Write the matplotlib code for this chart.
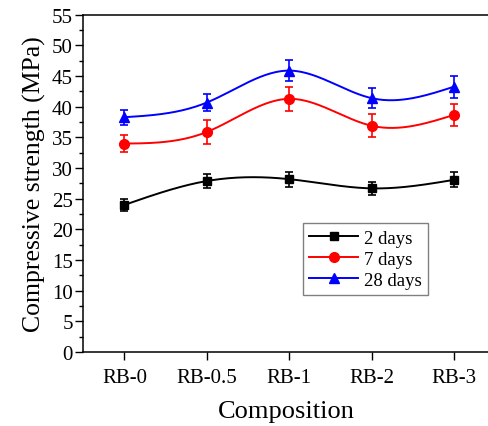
import numpy as np
import matplotlib
matplotlib.use("Agg")
import matplotlib.pyplot as plt
from matplotlib.ticker import MultipleLocator

plt.rcParams["font.family"] = ["Liberation Serif", "DejaVu Serif"]

compositions = ["RB-0", "RB-0.5", "RB-1", "RB-2", "RB-3"]

days2 = [24.0, 27.9, 28.2, 26.7, 28.1]
days2_err = [1.0, 1.2, 1.25, 1.0, 1.25]
days7 = [34.0, 35.9, 41.3, 36.9, 38.7]
days7_err = [1.4, 2.0, 2.0, 1.9, 1.75]
days28 = [38.3, 40.7, 45.9, 41.4, 43.3]
days28_err = [1.2, 1.35, 1.75, 1.6, 1.8]


def natural_spline(x, y, num=200):
    # natural cubic spline through the points, for a smooth connecting line
    x = np.asarray(x, float)
    y = np.asarray(y, float)
    n = len(x)
    h = np.diff(x)
    A = np.zeros((n, n))
    b = np.zeros(n)
    A[0, 0] = A[-1, -1] = 1
    for i in range(1, n - 1):
        A[i, i - 1] = h[i - 1]
        A[i, i] = 2 * (h[i - 1] + h[i])
        A[i, i + 1] = h[i]
        b[i] = 3 * ((y[i + 1] - y[i]) / h[i] - (y[i] - y[i - 1]) / h[i - 1])
    c = np.linalg.solve(A, b)
    xs = np.linspace(x[0], x[-1], num)
    idx = np.clip(np.searchsorted(x, xs) - 1, 0, n - 2)
    dx = xs - x[idx]
    bb = (y[idx + 1] - y[idx]) / h[idx] - h[idx] * (2 * c[idx] + c[idx + 1]) / 3
    dd = (c[idx + 1] - c[idx]) / (3 * h[idx])
    ys = y[idx] + bb * dx + c[idx] * dx ** 2 + dd * dx ** 3
    return xs, ys


fig = plt.figure(figsize=(4.89, 4.27), dpi=100)
ax = fig.add_axes([0.170, 0.173, 0.830, 0.790])

x = np.arange(len(compositions))
series = [
    (days2, days2_err, "black", "s", 6, "2 days"),
    (days7, days7_err, "red", "o", 7, "7 days"),
    (days28, days28_err, "blue", "^", 7.5, "28 days"),
]
for vals, errs, color, marker, ms, label in series:
    xs, ys = natural_spline(x, vals)
    ax.plot(xs, ys, color=color, lw=1.4)
    ax.errorbar(x, vals, yerr=errs, fmt="none", ecolor=color, elinewidth=1.2,
                capsize=3, capthick=1.2)
    ax.plot(x, vals, linestyle="none", marker=marker, color=color, ms=ms)
    ax.plot([], [], color=color, marker=marker, ms=ms, lw=1.4, label=label)

ax.set_xlim(-0.5, 4.42)
ax.set_ylim(0, 55)
ax.set_xticks(x)
ax.set_xticklabels(compositions)
ax.yaxis.set_major_locator(MultipleLocator(5))
ax.yaxis.set_minor_locator(MultipleLocator(2.5))
ax.tick_params(axis="both", which="major", direction="out", length=5.5, width=1,
               labelsize=15)
ax.tick_params(axis="y", which="minor", direction="out", length=3, width=1)
ax.tick_params(axis="x", pad=6)
ax.tick_params(axis="y", pad=2)
ax.spines["right"].set_visible(False)
for s in ["left", "bottom", "top"]:
    ax.spines[s].set_linewidth(1.1)

ax.set_xlabel("Composition", fontsize=19, labelpad=9)
ax.set_ylabel("Compressive strength (MPa)", fontsize=18.5, labelpad=4)

leg = ax.legend(loc="upper left", bbox_to_anchor=(0.541, 0.382), fontsize=13.5,
                fancybox=False, edgecolor="gray", handlelength=2.6,
                borderpad=0.35, labelspacing=0.2, handletextpad=0.3,
                borderaxespad=0, framealpha=1)
leg.get_frame().set_linewidth(1)

fig.savefig("out.png", dpi=100)
